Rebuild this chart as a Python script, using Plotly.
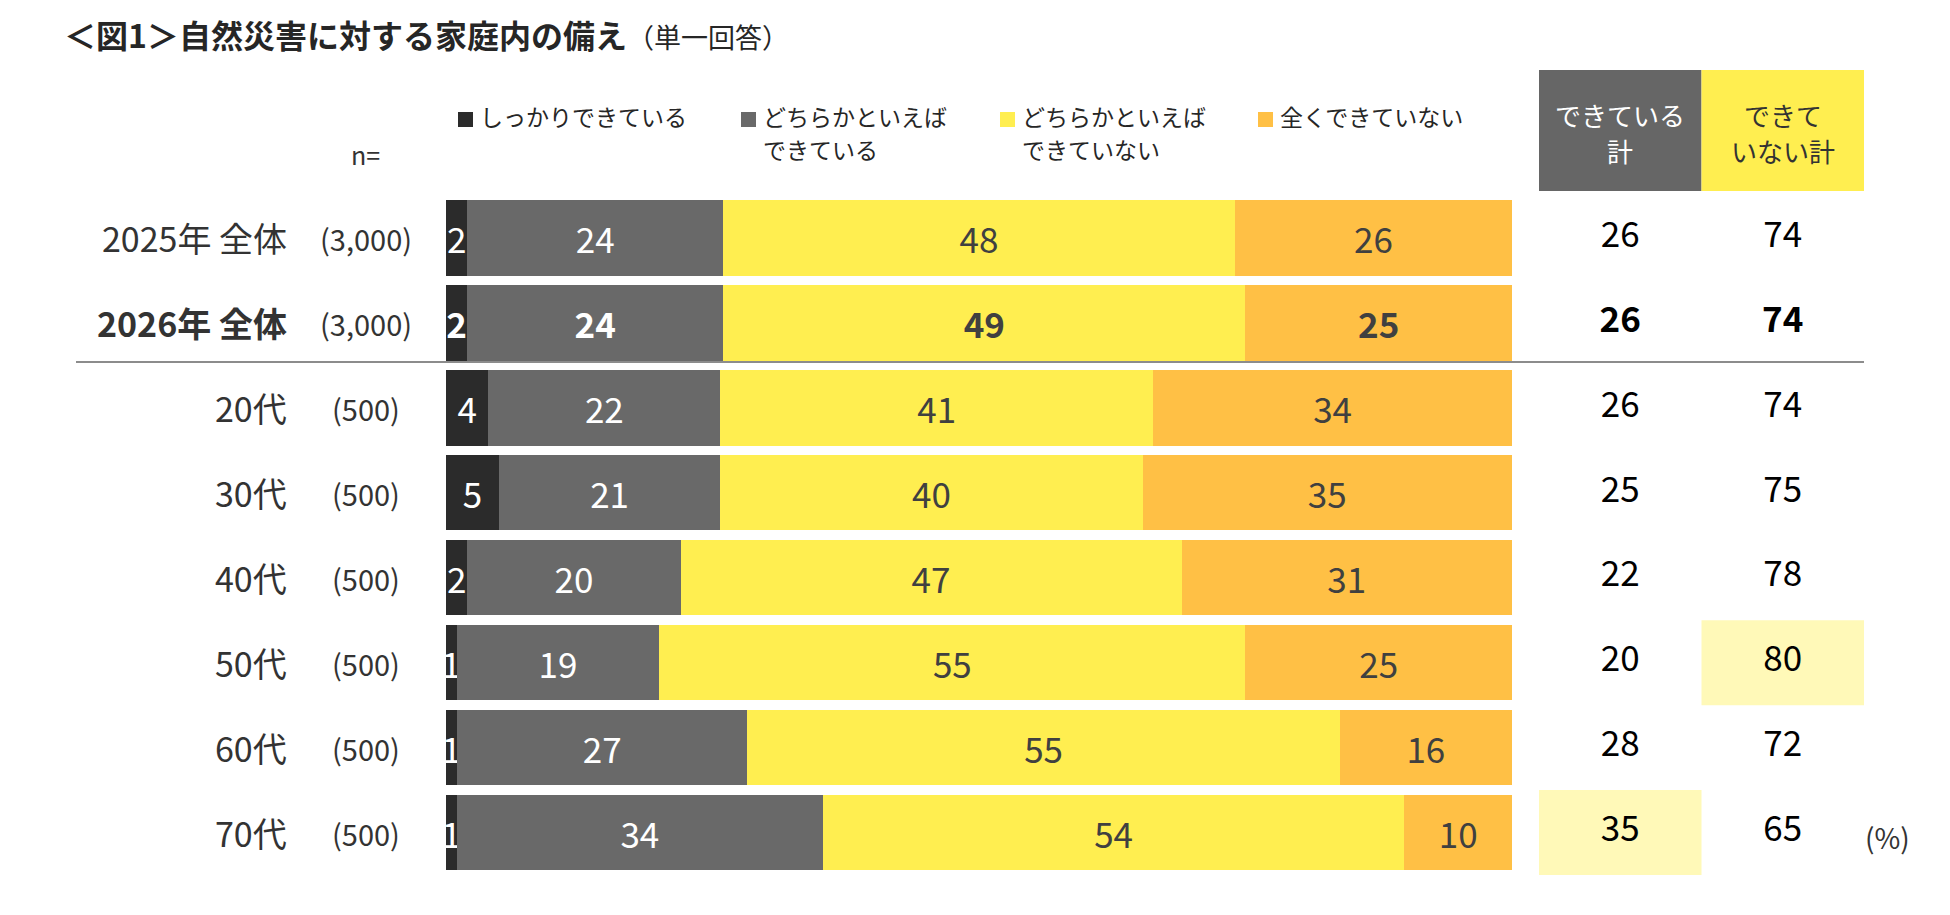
import plotly.graph_objects as go

# ---------------- data ----------------
categories = ["2025年 全体", "2026年 全体", "20代", "30代", "40代", "50代", "60代", "70代"]
sample_n = ["(3,000)", "(3,000)", "(500)", "(500)", "(500)", "(500)", "(500)", "(500)"]
series_names = ["しっかりできている", "どちらかといえば<br>できている",
                "どちらかといえば<br>できていない", "全くできていない"]
v_firm = [2, 2, 4, 5, 2, 1, 1, 1]
v_some = [24, 24, 22, 21, 20, 19, 27, 34]
v_somenot = [48, 49, 41, 40, 47, 55, 55, 54]
v_not = [26, 25, 34, 35, 31, 25, 16, 10]
total_done = [26, 26, 26, 25, 22, 20, 28, 35]
total_notdone = [74, 74, 74, 75, 78, 80, 72, 65]
total_headers = ["できている<br>計", "できて<br>いない計"]
bold_rows = [1]
highlight_done = [7]
highlight_notdone = [5]

# ---------------- style ----------------
W, H = 1950, 915
FONT = "Noto Sans CJK JP"
seg_colors = ["#2B2B2B", "#696969", "#FFEE50", "#FFC045"]
seg_text_colors = ["#FFFFFF", "#FFFFFF", "#404040", "#404040"]
hl_color = "#FFF9B8"


def px(x):
    return x / W


def py(y):
    return 1 - y / H


def fmt(v, i):
    return f"<b>{v}</b>" if i in bold_rows else str(v)


fig = go.Figure()

series = [v_firm, v_some, v_somenot, v_not]
for s, (name, vals) in enumerate(zip(series_names, series)):
    fig.add_trace(go.Bar(
        y=categories, x=vals, orientation="h", name=name,
        marker=dict(color=seg_colors[s], line=dict(width=0)),
        text=[fmt(v, i) for i, v in enumerate(vals)],
        textposition="inside", insidetextanchor="middle",
        constraintext="none", textangle=0,
        insidetextfont=dict(family=FONT, size=35, color=seg_text_colors[s]),
        cliponaxis=False, showlegend=False, hoverinfo="skip",
        xaxis="x", yaxis="y",
    ))

# totals columns
for c, vals in enumerate([total_done, total_notdone]):
    fig.add_trace(go.Scatter(
        x=[c] * len(categories), y=categories, mode="text",
        text=[fmt(v, i) for i, v in enumerate(vals)],
        textfont=dict(family=FONT, size=35, color="#000000"),
        textposition="middle center", showlegend=False, hoverinfo="skip",
        xaxis="x2", yaxis="y",
    ))

shapes = []
annotations = []

# highlight cells (behind)
for i in highlight_done:
    shapes.append(dict(type="rect", xref="x2", yref="y", x0=-0.5, x1=0.5,
                       y0=i - 0.5, y1=i + 0.5, fillcolor=hl_color,
                       line=dict(width=0), layer="below"))
for i in highlight_notdone:
    shapes.append(dict(type="rect", xref="x2", yref="y", x0=0.5, x1=1.5,
                       y0=i - 0.5, y1=i + 0.5, fillcolor=hl_color,
                       line=dict(width=0), layer="below"))

# header boxes
hdr_fill = ["#666666", "#FFEE50"]
hdr_txt = ["#FFFFFF", "#333333"]
for c in range(2):
    shapes.append(dict(type="rect", xref="x2", yref="paper", x0=c - 0.5, x1=c + 0.5,
                       y0=py(191), y1=py(70), fillcolor=hdr_fill[c],
                       line=dict(width=0), layer="below"))
    for k, line in enumerate(total_headers[c].split("<br>")):
        annotations.append(dict(xref="x2", yref="paper", x=c, y=py(114 + 37 * k),
                                text=line, showarrow=False,
                                font=dict(family=FONT, size=26, color=hdr_txt[c]),
                                xanchor="center", yanchor="middle", align="center"))

# separator line
shapes.append(dict(type="line", xref="paper", yref="paper", x0=px(76), x1=px(1864),
                   y0=py(362), y1=py(362), line=dict(color="#8C8C8C", width=2)))

# legend
leg_x = [458, 741, 1000, 1258]
for s in range(4):
    shapes.append(dict(type="rect", xref="paper", yref="paper",
                       x0=px(leg_x[s]), x1=px(leg_x[s] + 15),
                       y0=py(127), y1=py(112), fillcolor=seg_colors[s],
                       line=dict(width=0)))
    for k, line in enumerate(series_names[s].split("<br>")):
        annotations.append(dict(xref="paper", yref="paper", x=px(leg_x[s] + 20),
                                y=py(116 + 33 * k), text=line,
                                showarrow=False, xanchor="left", yanchor="middle",
                                align="left",
                                font=dict(family=FONT, size=23, color="#262626")))

# row labels
for i, (cat, n) in enumerate(zip(categories, sample_n)):
    annotations.append(dict(xref="paper", yref="y", x=px(289), y=cat,
                            text=f"<b>{cat}</b>" if i in bold_rows else cat,
                            showarrow=False, xanchor="right", yanchor="middle",
                            font=dict(family=FONT, size=34, color="#333333")))
    annotations.append(dict(xref="paper", yref="y", x=px(366), y=cat, text=n,
                            showarrow=False, xanchor="center", yanchor="middle",
                            font=dict(family=FONT, size=29, color="#333333")))

annotations.append(dict(xref="paper", yref="paper", x=px(365), y=py(154), text="n=",
                        showarrow=False, xanchor="center", yanchor="middle",
                        font=dict(family=FONT, size=25, color="#333333")))
annotations.append(dict(xref="paper", yref="paper", x=px(1887), y=py(837), text="(%)",
                        showarrow=False, xanchor="center", yanchor="middle",
                        font=dict(family=FONT, size=28, color="#333333")))
# title
annotations.append(dict(xref="paper", yref="paper", x=px(62), y=py(34),
                        text="<b>＜図1＞自然災害に対する家庭内の備え</b>"
                             "<span style='font-size:27px'>（単一回答）</span>",
                        showarrow=False, xanchor="left", yanchor="middle",
                        font=dict(family=FONT, size=32, color="#262626")))

fig.update_layout(
    width=W, height=H, autosize=False,
    margin=dict(l=0, r=0, t=0, b=0),
    paper_bgcolor="white", plot_bgcolor="white",
    barmode="stack", barnorm="percent", bargap=0.112,
    font=dict(family=FONT),
    xaxis=dict(domain=[px(446), px(1512)], range=[0, 100.001], visible=False,
               fixedrange=True),
    xaxis2=dict(domain=[px(1539), px(1864)], range=[-0.5, 1.5], visible=False,
                anchor="y", fixedrange=True),
    yaxis=dict(domain=[py(875), py(195.5)], type="category",
               categoryorder="array", categoryarray=categories,
               range=[len(categories) - 0.5, -0.5], visible=False, fixedrange=True),
    shapes=shapes, annotations=annotations,
)

fig.write_html("out.html", config={"displayModeBar": False},
               post_script="document.body.style.margin='0';")
